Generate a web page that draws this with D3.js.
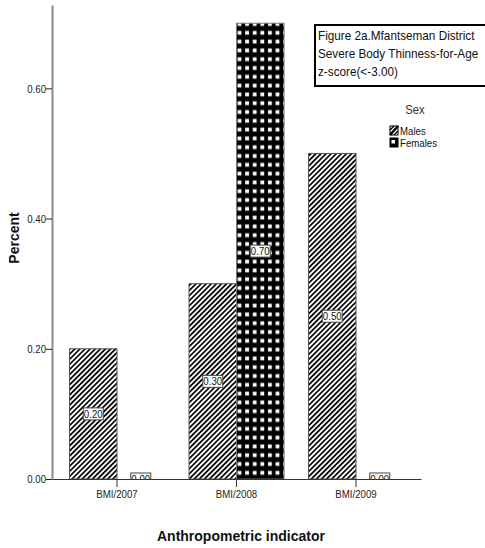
<!DOCTYPE html>
<html><head><meta charset="utf-8">
<script src="https://cdn.jsdelivr.net/npm/d3@7"></script>
<style>
body{margin:0;background:#fff;}
svg{display:block;}
.narrow{font-family:"Liberation Sans Narrow","Arial Narrow","Liberation Sans",Arial,sans-serif;}
</style></head>
<body><svg id="chart" width="485" height="548"></svg>
<script>
const categories = ["BMI/2007","BMI/2008","BMI/2009"];
const seriesNames = ["Males","Females"];
const males = [0.20, 0.30, 0.50];
const females = [0.00, 0.70, 0.00];
const yTicks = [0.00, 0.20, 0.40, 0.60];
const titleLines = ["Figure 2a.Mfantseman District","Severe Body Thinness-for-Age","z-score(<-3.00)"];

(function(){
const svg = d3.select("#chart");
const pLeft = 52, pRight = 421, pTop = 5, pBottom = 479;
const yMax = 0.728;

const defs = svg.append("defs");
const hatch = defs.append("pattern").attr("id","hatch").attr("patternUnits","userSpaceOnUse")
  .attr("width",3.6).attr("height",3.6).attr("patternTransform","rotate(45)");
hatch.append("rect").attr("width",3.6).attr("height",3.6).attr("fill","#fff");
hatch.append("rect").attr("x",0).attr("y",0).attr("width",1.7).attr("height",3.6).attr("fill","#000");

const grid = defs.append("pattern").attr("id","grid").attr("patternUnits","userSpaceOnUse")
  .attr("width",7.6).attr("height",8.8).attr("x",0).attr("y",2);
grid.append("rect").attr("width",7.6).attr("height",8.8).attr("fill","#000");
grid.append("rect").attr("x",2).attr("y",2.5).attr("width",3.8).attr("height",3.8).attr("fill","#fff");

defs.append("clipPath").attr("id","plotclip").append("rect")
  .attr("x",pLeft).attr("y",pTop).attr("width",pRight-pLeft).attr("height",pBottom-pTop);

const x = d3.scaleBand().domain(categories).range([pLeft,pRight]).paddingInner(0.205).paddingOuter(0.1465);
const xs = d3.scaleBand().domain(seriesNames).range([0,x.bandwidth()]);
const y = d3.scaleLinear().domain([0,yMax]).range([pBottom,pTop]);

const data = [];
categories.forEach((c,i)=>{
  data.push({cat:c, s:"Males", v:males[i]});
  data.push({cat:c, s:"Females", v:females[i]});
});

const plot = svg.append("g").attr("clip-path","url(#plotclip)");
plot.selectAll("rect.bar").data(data.filter(d=>d.v>0)).join("rect")
  .attr("class","bar")
  .attr("x",d=>x(d.cat)+xs(d.s))
  .attr("y",d=>y(d.v))
  .attr("width",xs.bandwidth())
  .attr("height",d=>y(0)-y(d.v))
  .attr("fill",d=>d.s==="Males"?"url(#hatch)":"url(#grid)")
  .attr("stroke",d=>d.s==="Males"?"#555":"#777")
  .attr("stroke-width",1);

const lbl = plot.selectAll("g.lbl").data(data).join("g").attr("class","lbl")
  .attr("transform",d=>`translate(${x(d.cat)+xs(d.s)+xs.bandwidth()/2},${(y(d.v)+y(0))/2})`);
lbl.append("rect").attr("x",-10).attr("y",-6).attr("width",20).attr("height",12)
  .attr("fill","#fff").attr("stroke","#444").attr("stroke-width",1);
lbl.append("text").attr("class","narrow").attr("x",0).attr("text-anchor","middle").attr("dy","0.36em")
  .attr("font-size",11.5).attr("fill","#111").text(d=>d.v.toFixed(2));

const yAxis = svg.append("g").attr("transform",`translate(${pLeft},0)`)
  .call(d3.axisLeft(y).tickValues(yTicks).tickFormat(d3.format(".2f")).tickSize(6).tickSizeOuter(0));
yAxis.select(".domain").attr("stroke","#888").attr("stroke-width",2);
yAxis.selectAll(".tick line").attr("stroke","#222");
yAxis.selectAll(".tick text").attr("class","narrow").attr("font-size",11.5).attr("fill","#222").attr("x",-6);

const xAxis = svg.append("g").attr("transform",`translate(0,${pBottom})`)
  .call(d3.axisBottom(x).tickSize(8).tickSizeOuter(0));
xAxis.select(".domain").attr("stroke","#333").attr("stroke-width",1.2);
xAxis.selectAll(".tick line").attr("stroke","#333");
xAxis.selectAll(".tick text").attr("class","narrow").attr("x",0).attr("font-size",11.5).attr("fill","#222").attr("y",11);

svg.append("text").attr("transform","translate(19,238) rotate(-90)")
  .attr("text-anchor","middle").attr("font-family","Liberation Sans, Arial, sans-serif")
  .attr("font-weight","bold").attr("font-size",14).attr("fill","#111").text("Percent");
svg.append("text").attr("x",241).attr("y",541)
  .attr("text-anchor","middle").attr("font-family","Liberation Sans, Arial, sans-serif")
  .attr("font-weight","bold").attr("font-size",14).attr("fill","#111").text("Anthropometric indicator");

svg.append("rect").attr("x",315).attr("y",25).attr("width",172).attr("height",61)
  .attr("fill","#fff").attr("stroke","#000").attr("stroke-width",2);
svg.append("g").selectAll("text").data(titleLines).join("text").attr("class","narrow")
  .attr("x",318).attr("y",(d,i)=>40+i*18).attr("font-size",13.5).attr("fill","#111").text(d=>d);

svg.append("text").attr("class","narrow").attr("x",415).attr("y",114).attr("text-anchor","middle")
  .attr("font-size",13.5).attr("fill","#333").text("Sex");
const lg = svg.append("g").selectAll("g").data(seriesNames).join("g")
  .attr("transform",(d,i)=>`translate(390,${126+i*12})`);
lg.append("rect").attr("width",8).attr("height",9)
  .attr("fill",d=>d==="Males"?"#fff":"#000").attr("stroke","#000").attr("stroke-width",1);
lg.filter(d=>d==="Males").append("line").attr("x1",0).attr("y1",9).attr("x2",8).attr("y2",0)
  .attr("stroke","#000").attr("stroke-width",2.5);
lg.filter(d=>d==="Males").append("line").attr("x1",0).attr("y1",4).attr("x2",4).attr("y2",0)
  .attr("stroke","#000").attr("stroke-width",1.5);
lg.filter(d=>d==="Males").append("line").attr("x1",4).attr("y1",9).attr("x2",8).attr("y2",5)
  .attr("stroke","#000").attr("stroke-width",1.5);
lg.filter(d=>d==="Females").append("rect").attr("x",1.5).attr("y",2).attr("width",3.5).attr("height",3.5).attr("fill","#fff");
lg.append("text").attr("class","narrow").attr("x",10).attr("y",9).attr("font-size",11.5).attr("fill","#111").text(d=>d);

// condense the narrow texts (Arial Narrow look) by a horizontal scale around their anchor x
svg.selectAll("text.narrow").each(function(){
  const t = d3.select(this);
  const ax = +t.attr("x") || 0;
  const k = this.parentNode.tagName === "g" && titleLines.includes(t.text()) ? 0.87 : 0.84;
  t.attr("transform", `translate(${ax},0) scale(${k},1) translate(${-ax},0)`);
});
})();
</script></body></html>
